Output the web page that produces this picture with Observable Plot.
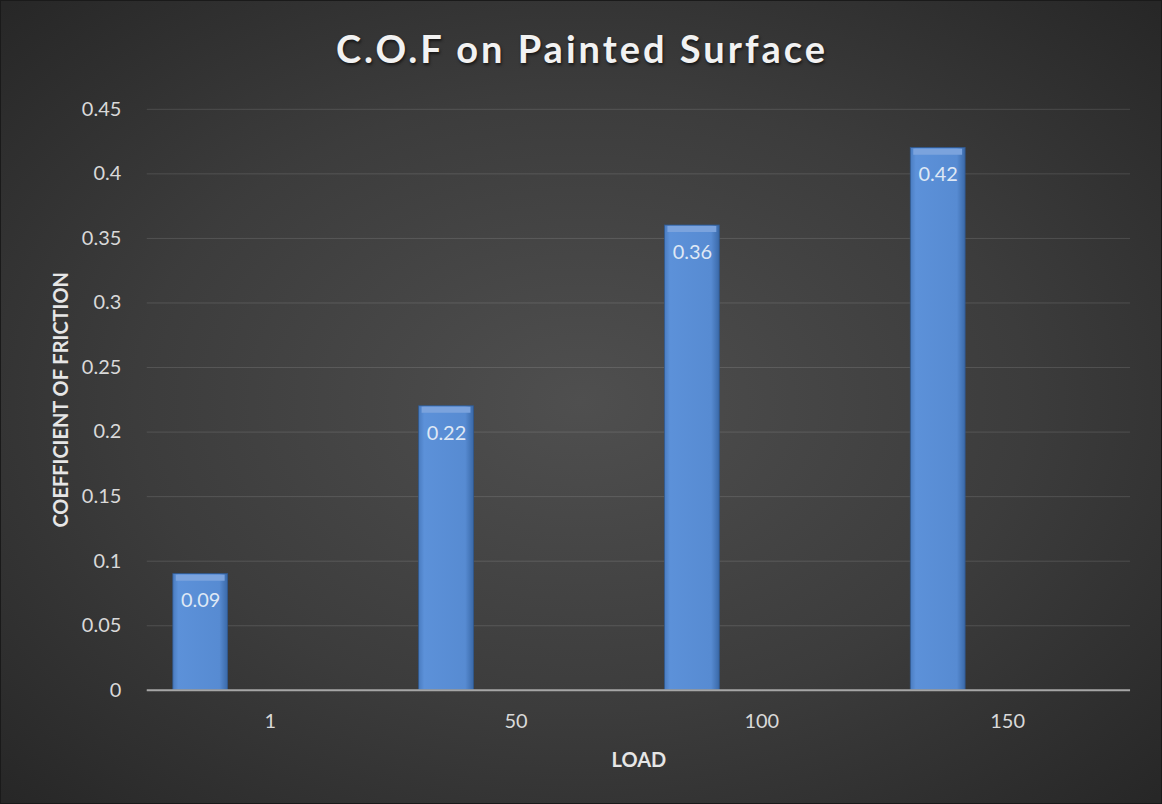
<!DOCTYPE html>
<html>
<head>
<meta charset="utf-8">
<script src="https://cdn.jsdelivr.net/npm/d3@7"></script>
<script src="https://cdn.jsdelivr.net/npm/@observablehq/plot@0.6"></script>
<style>
  html, body { margin: 0; padding: 0; background: #1e1e1e; }
  #wrap {
    position: relative; width: 1162px; height: 804px; overflow: hidden;
    background: radial-gradient(ellipse 70% 70% at 50% 50%, #4f4f4f 0%, #3c3c3c 55%, #272727 100%);
    box-sizing: border-box; border: 1px solid #1a1a1a;
    font-family: Lato, "Open Sans", sans-serif;
  }
  #title {
    position: absolute; left: 0; top: 24px; width: 1162px; text-align: center;
    font-family: Lato, sans-serif; font-weight: 700; font-size: 38px; letter-spacing: 3px;
    color: #f2f2f2; text-shadow: 1px 2px 3px rgba(0,0,0,0.6);
  }
  #chart { position: absolute; left: 0; top: 0; }
  #chart svg { background: transparent; overflow: visible; }
</style>
</head>
<body>
<div id="wrap">
  <div id="title">C.O.F on Painted Surface</div>
  <div id="chart"></div>
</div>
<script>
// ---- data ----
const loads = ["1", "50", "100", "150"];
const cof = [0.09, 0.22, 0.36, 0.42];
const yTicks = [0, 0.05, 0.1, 0.15, 0.2, 0.25, 0.3, 0.35, 0.4, 0.45];
const xLabel = "LOAD";
const yLabel = "COEFFICIENT OF FRICTION";

const data = loads.map((load, i) => ({ i, load, cof: cof[i] }));

// bar placement inside each category slot (Excel clustered look)
const b0 = -0.394, b1 = -0.171;

const chart = Plot.plot({
  width: 1162,
  height: 804,
  marginTop: 108,
  marginBottom: 114,
  marginLeft: 146,
  marginRight: 31,
  style: { fontFamily: "Lato, 'Open Sans', sans-serif", fontSize: "20px", color: "#d9d9d9", background: "transparent" },
  x: { type: "linear", domain: [-0.5, loads.length - 0.5] },
  y: { domain: [0, 0.45] },
  marks: [
    Plot.gridY(yTicks, { stroke: "#ffffff", strokeOpacity: 0.13, strokeWidth: 1 }),
    Plot.rectY(data, {
      x1: d => d.i + b0, x2: d => d.i + b1, y: "cof",
      fill: "url(#barGrad)", stroke: "#30598f", strokeWidth: 0.8
    }),
    Plot.ruleY(data, {
      x1: d => d.i + b0, x2: d => d.i + b1, y: "cof",
      stroke: "#7ba3dd", strokeWidth: 6, dy: 3.6, insetLeft: 3, insetRight: 3
    }),
    Plot.ruleY([0], { stroke: "#a6a6a6", strokeWidth: 2 }),
    Plot.text(data, {
      x: d => d.i + (b0 + b1) / 2, y: "cof", text: d => String(d.cof),
      dy: 27, fill: "#dfe8f5", fontSize: 20
    }),
    Plot.axisY(yTicks, {
      tickSize: 0, tickPadding: 26, tickFormat: d => String(+d.toFixed(2)),
      label: yLabel, labelAnchor: "center", labelOffset: 94, fontSize: 20, fill: "#d9d9d9"
    }),
    Plot.axisX(d3.range(loads.length), {
      tickSize: 0, tickPadding: 24, tickFormat: i => loads[i],
      label: xLabel, labelAnchor: "center", labelOffset: 77, fontSize: 20, fill: "#d9d9d9"
    })
  ]
});

// gradient defs for the bars
const svg = d3.select(chart);
const defs = svg.insert("defs", ":first-child");
const g = defs.append("linearGradient").attr("id", "barGrad").attr("x1", 0).attr("x2", 1).attr("y1", 0).attr("y2", 0);
g.append("stop").attr("offset", "0%").attr("stop-color", "#4a7cc0");
g.append("stop").attr("offset", "10%").attr("stop-color", "#5c91d9");
g.append("stop").attr("offset", "85%").attr("stop-color", "#578bd2");
g.append("stop").attr("offset", "100%").attr("stop-color", "#3a69a8");

// axis labels: bold, no arrows
svg.selectAll("g[aria-label='y-axis label'] text")
  .text(yLabel).attr("font-weight", "bold").attr("font-size", 20).attr("fill", "#e6e6e6");
svg.selectAll("g[aria-label='x-axis label'] text")
  .text(xLabel).attr("font-weight", "bold").attr("font-size", 20).attr("fill", "#e6e6e6");

document.getElementById("chart").appendChild(chart);
</script>
</body>
</html>
